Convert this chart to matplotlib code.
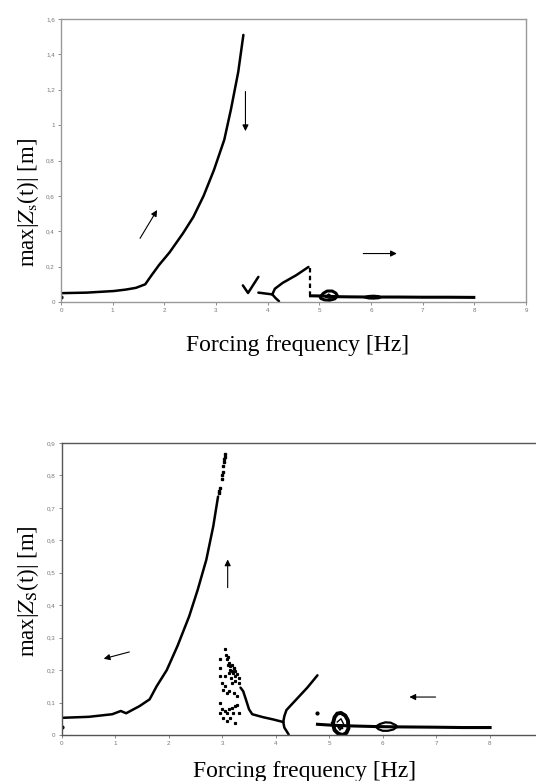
"""Two frequency-response panels: max|Zs(t)| vs forcing frequency, sweep up (top) and sweep down (bottom)."""

import matplotlib

matplotlib.use("Agg")
import matplotlib.pyplot as plt  # noqa: E402

plt.rcParams["mathtext.fontset"] = "stix"

# ---- top panel (sweep up) ----
TOP_MAIN_X = [0.0, 0.5, 1.02, 1.25, 1.45, 1.63, 1.75, 1.9, 2.1, 2.36, 2.56, 2.76, 2.96, 3.16, 3.29, 3.43, 3.53]
TOP_MAIN_Y = [0.05, 0.053, 0.062, 0.07, 0.08, 0.1, 0.15, 0.21, 0.28, 0.388, 0.48, 0.6, 0.746, 0.917, 1.09, 1.3, 1.51]
TOP_CHECK_X = [3.52, 3.62, 3.82]
TOP_CHECK_Y = [0.094, 0.051, 0.142]
TOP_STUB_X = [3.82, 4.09]
TOP_STUB_Y = [0.053, 0.043]
TOP_UP_X = [4.09, 4.14, 4.29, 4.55, 4.79]
TOP_UP_Y = [0.043, 0.075, 0.108, 0.151, 0.198]
TOP_DOWN_X = [4.09, 4.15, 4.22]
TOP_DOWN_Y = [0.043, 0.023, 0.004]
TOP_JUMP_X = [4.82, 4.82]
TOP_JUMP_Y = [0.19, 0.035]
TOP_TAIL_X = [4.83, 5.05, 5.35, 5.6, 6.0, 6.5, 7.0, 7.5, 7.99]
TOP_TAIL_Y = [0.035, 0.034, 0.03, 0.029, 0.028, 0.028, 0.027, 0.027, 0.026]
TOP_LOOP5_X = [5.02, 5.08, 5.15, 5.25, 5.32, 5.35, 5.3, 5.2, 5.1, 5.03, 5.02]
TOP_LOOP5_Y = [0.03, 0.05, 0.062, 0.062, 0.05, 0.035, 0.018, 0.01, 0.012, 0.02, 0.03]
TOP_INNER5_X = [5.12, 5.18, 5.25, 5.2, 5.12]
TOP_INNER5_Y = [0.03, 0.045, 0.03, 0.02, 0.03]
TOP_BLOB6_X = [5.85, 5.95, 6.05, 6.15, 6.2, 6.15, 6.05, 5.95, 5.85]
TOP_BLOB6_Y = [0.027, 0.035, 0.037, 0.034, 0.027, 0.02, 0.018, 0.019, 0.027]
TOP_DOT = (0.0, 0.03)
TOP_YTICKS = [0, 0.2, 0.4, 0.6, 0.8, 1.0, 1.2, 1.4, 1.6]
TOP_YLABELS = ["0", "0,2", "0,4", "0,6", "0,8", "1", "1,2", "1,4", "1,6"]
TOP_XTICKS = [0, 1, 2, 3, 4, 5, 6, 7, 8, 9]
# arrows: (x_tail, y_tail, x_head, y_head)
TOP_ARROWS = [(1.53, 0.36, 1.86, 0.52), (3.57, 1.19, 3.57, 0.966), (5.85, 0.274, 6.5, 0.274)]

# ---- bottom panel (sweep down) ----
BOT_MAIN_X = [0.0, 0.5, 0.94, 1.1, 1.2, 1.45, 1.64, 1.77, 1.96, 2.16, 2.38, 2.54, 2.7, 2.83, 2.92]
BOT_MAIN_Y = [0.053, 0.056, 0.064, 0.074, 0.067, 0.089, 0.11, 0.15, 0.2, 0.274, 0.366, 0.448, 0.54, 0.643, 0.735]
BOT_TOP_DOTS_X = [2.93, 2.94, 2.95, 2.99, 3.0, 3.01, 3.02, 3.03, 3.04, 3.05, 3.05]
BOT_TOP_DOTS_Y = [0.745, 0.752, 0.76, 0.79, 0.8, 0.81, 0.83, 0.84, 0.85, 0.858, 0.865]
BOT_CLOUD_X = [2.96, 3.05, 3.06, 3.08, 3.12, 3.15, 3.18, 3.21, 3.24, 3.28, 3.31, 3.18, 3.13, 3.23,
               3.05, 2.96, 2.96, 3.0, 3.05, 3.18, 3.24, 3.31, 2.96, 3.0, 3.05, 3.12, 3.18, 3.24,
               3.28, 3.02, 3.08, 3.15, 3.24, 3.31, 2.96, 3.08, 3.2, 3.02, 3.12, 3.21, 3.28, 3.08,
               3.1, 3.14, 3.2, 3.16, 3.22, 3.1]
BOT_CLOUD_Y = [0.233, 0.264, 0.248, 0.233, 0.223, 0.212, 0.217, 0.207, 0.197, 0.187, 0.176, 0.197,
               0.192, 0.182, 0.182, 0.207, 0.182, 0.161, 0.151, 0.161, 0.166, 0.161, 0.099, 0.079,
               0.074, 0.079, 0.084, 0.089, 0.094, 0.053, 0.043, 0.053, 0.038, 0.069, 0.069, 0.069,
               0.069, 0.14, 0.135, 0.13, 0.12, 0.13, 0.24, 0.2, 0.19, 0.175, 0.205, 0.215]
BOT_HUMP_X = [3.34, 3.39, 3.44, 3.5, 3.56, 3.76, 3.95, 4.14]
BOT_HUMP_Y = [0.146, 0.135, 0.11, 0.079, 0.064, 0.055, 0.048, 0.04]
BOT_UP_X = [4.14, 4.16, 4.2, 4.33, 4.59, 4.78]
BOT_UP_Y = [0.04, 0.058, 0.077, 0.1, 0.146, 0.184]
BOT_DOWN_X = [4.14, 4.16, 4.24]
BOT_DOWN_Y = [0.04, 0.023, 0.002]
BOT_TAIL_X = [4.78, 5.07, 5.4, 5.87, 6.3, 7.0, 7.5, 8.01]
BOT_TAIL_Y = [0.033, 0.03, 0.028, 0.026, 0.025, 0.024, 0.023, 0.023]
BOT_LOOP5_X = [5.07, 5.1, 5.15, 5.22, 5.3, 5.35, 5.36, 5.32, 5.25, 5.17, 5.1, 5.07]
BOT_LOOP5_Y = [0.035, 0.055, 0.066, 0.068, 0.06, 0.045, 0.02, 0.006, 0.0, 0.004, 0.015, 0.035]
BOT_INNER5_X = [5.15, 5.22, 5.28, 5.2, 5.16, 5.25]
BOT_INNER5_Y = [0.04, 0.05, 0.03, 0.015, 0.025, 0.02]
BOT_LOOP6_X = [5.87, 5.95, 6.05, 6.15, 6.25, 6.27, 6.2, 6.1, 6.0, 5.92, 5.87]
BOT_LOOP6_Y = [0.026, 0.034, 0.039, 0.038, 0.03, 0.025, 0.017, 0.013, 0.013, 0.018, 0.026]
BOT_DOTS_X = [0.0, 4.78]
BOT_DOTS_Y = [0.025, 0.069]
BOT_YTICKS = [0, 0.1, 0.2, 0.3, 0.4, 0.5, 0.6, 0.7, 0.8, 0.9]
BOT_YLABELS = ["0", "0,1", "0,2", "0,3", "0,4", "0,5", "0,6", "0,7", "0,8", "0,9"]
BOT_XTICKS = [0, 1, 2, 3, 4, 5, 6, 7, 8]
BOT_ARROWS = [(1.26, 0.256, 0.78, 0.235), (3.10, 0.454, 3.10, 0.541), (6.99, 0.117, 6.5, 0.117)]

SERIF = "Liberation Serif"
TICK_GRAY = "#777777"


def style_axes(ax, xticks, yticks, ylabels):
    ax.set_xticks(xticks)
    ax.set_xticklabels([str(t) for t in xticks])
    ax.set_yticks(yticks)
    ax.set_yticklabels(ylabels)
    ax.tick_params(direction="out", length=2.5, width=0.6, colors=TICK_GRAY,
                   labelsize=4.5, pad=2)
    for lab in ax.get_xticklabels() + ax.get_yticklabels():
        lab.set_family("Liberation Sans")


def draw_arrows(ax, arrows):
    for x0, y0, x1, y1 in arrows:
        ax.annotate("", xy=(x1, y1), xytext=(x0, y0),
                    arrowprops=dict(arrowstyle="-|>", lw=0.8, color="k",
                                    mutation_scale=9, shrinkA=0, shrinkB=0))


fig = plt.figure(figsize=(5.36, 7.81), dpi=100)

# ---------------- top panel ----------------
ax1 = fig.add_axes([61 / 536, 1 - 302 / 781, 465 / 536, 283 / 781])
ax1.set_xlim(0, 9)
ax1.set_ylim(0, 1.6)
for s in ax1.spines.values():
    s.set_color("#999999")
    s.set_linewidth(1.0)
kw = dict(color="k", lw=1.8, solid_capstyle="round")
ax1.plot(TOP_MAIN_X, TOP_MAIN_Y, **kw)
ax1.plot(TOP_CHECK_X, TOP_CHECK_Y, **kw)
ax1.plot(TOP_STUB_X, TOP_STUB_Y, **kw)
ax1.plot(TOP_UP_X, TOP_UP_Y, **kw)
ax1.plot(TOP_DOWN_X, TOP_DOWN_Y, **kw)
ax1.plot(TOP_JUMP_X, TOP_JUMP_Y, color="k", lw=1.6, ls=(0, (2, 1.5)))
ax1.plot(TOP_TAIL_X, TOP_TAIL_Y, color="k", lw=2.2)
ax1.plot(TOP_LOOP5_X, TOP_LOOP5_Y, color="k", lw=2.2)
ax1.plot(TOP_INNER5_X, TOP_INNER5_Y, color="k", lw=1.0)
ax1.fill(TOP_BLOB6_X, TOP_BLOB6_Y, color="k", lw=1.2)
ax1.plot(*TOP_DOT, "o", color="k", ms=2)
draw_arrows(ax1, TOP_ARROWS)
style_axes(ax1, TOP_XTICKS, TOP_YTICKS, TOP_YLABELS)

fig.text(298 / 536, 1 - 346 / 781, "Forcing frequency [Hz]", family=SERIF,
         fontsize=17, ha="center", va="center")
fig.text(28 / 536, 1 - 202 / 781, r"max|$Z_\mathrm{s}$(t)| [m]", family=SERIF,
         fontsize=16.5, ha="center", va="center", rotation=90)

# ---------------- bottom panel ----------------
ax2 = fig.add_axes([62 / 536, 1 - 735 / 781, 481 / 536, 292 / 781])
ax2.set_xlim(0, 9)
ax2.set_ylim(0, 0.9)
ax2.spines["right"].set_visible(False)
for name in ("left", "bottom", "top"):
    ax2.spines[name].set_color("#555555")
    ax2.spines[name].set_linewidth(1.0)
ax2.plot(BOT_MAIN_X, BOT_MAIN_Y, **kw)
ax2.plot(BOT_TOP_DOTS_X, BOT_TOP_DOTS_Y, "s", color="k", ms=1.5)
ax2.plot(BOT_CLOUD_X, BOT_CLOUD_Y, "s", color="k", ms=1.3)
ax2.plot(BOT_HUMP_X, BOT_HUMP_Y, **kw)
ax2.plot(BOT_UP_X, BOT_UP_Y, **kw)
ax2.plot(BOT_DOWN_X, BOT_DOWN_Y, **kw)
ax2.plot(BOT_TAIL_X, BOT_TAIL_Y, color="k", lw=2.2)
ax2.plot(BOT_LOOP5_X, BOT_LOOP5_Y, color="k", lw=2.8)
ax2.plot(BOT_INNER5_X, BOT_INNER5_Y, color="k", lw=1.0)
ax2.plot(BOT_LOOP6_X, BOT_LOOP6_Y, color="k", lw=1.6)
ax2.plot(BOT_DOTS_X, BOT_DOTS_Y, "o", color="k", ms=2)
draw_arrows(ax2, BOT_ARROWS)
style_axes(ax2, BOT_XTICKS, BOT_YTICKS, BOT_YLABELS)

fig.text(305 / 536, 1 - 772 / 781, "Forcing frequency [Hz]", family=SERIF,
         fontsize=17, ha="center", va="center")
fig.text(28 / 536, 1 - 591 / 781, r"max|$Z_\mathrm{S}$(t)| [m]", family=SERIF,
         fontsize=16.5, ha="center", va="center", rotation=90)

fig.savefig("out.png", dpi=100)
